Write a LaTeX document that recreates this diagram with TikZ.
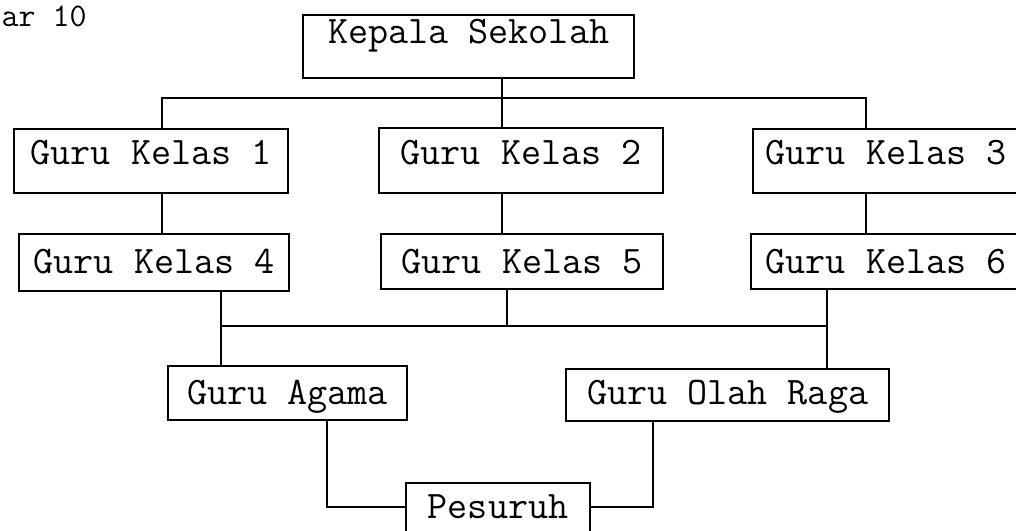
\documentclass[tikz,border=0pt]{standalone}
\usepackage{fontspec}
\begin{document}
\begin{tikzpicture}[x=1pt,y=-1pt,
  line width=2.2pt,
  orgbox/.style={draw, line width=2.2pt, inner sep=0pt, anchor=north west,
    font=\ttfamily\fontsize{39}{42}\selectfont},
  titletext/.style={inner sep=0pt, anchor=base west,
    font=\ttfamily\fontsize{33}{35}\selectfont},
  conn/.style={line width=2.2pt, line cap=rect}]
\useasboundingbox (0,0) rectangle (1016,530);
\clip (0,0) rectangle (1016,530);
% title fragment
\node[titletext] (title) at (0.5,26) {ar 10};
% boxes
\node[orgbox, minimum width=331pt, text height=28pt, text depth=35pt] (kepala) at (302,14) {Kepala Sekolah};
\node[orgbox, minimum width=274pt, text height=35pt, text depth=29pt] (k1) at (13,128) {Guru Kelas 1};
\node[orgbox, minimum width=284pt, text height=36pt, text depth=29pt] (k2) at (378,127) {Guru Kelas 2};
\node[orgbox, minimum width=266pt, text height=35pt, text depth=29pt] (k3) at (752,128) {Guru Kelas 3};
\node[orgbox, minimum width=270pt, text height=39pt, text depth=18pt] (k4) at (18,233) {Guru Kelas 4};
\node[orgbox, minimum width=282pt, text height=39pt, text depth=16pt] (k5) at (380,233) {Guru Kelas 5};
\node[orgbox, minimum width=270pt, text height=39pt, text depth=16pt] (k6) at (750,233) {Guru Kelas 6};
\node[orgbox, minimum width=239pt, text height=38pt, text depth=16pt] (agama) at (167,365) {Guru Agama};
\node[orgbox, minimum width=323pt, text height=35pt, text depth=17pt] (olah) at (565,368) {Guru Olah Raga};
\node[orgbox, minimum width=184pt, text height=35pt, text depth=23pt] (pesuruh) at (405,482) {Pesuruh};
% junction coordinates
\coordinate (t1) at (162,98);
\coordinate (t2) at (502,98);
\coordinate (t3) at (866,98);
\coordinate (b1) at (221,326);
\coordinate (b2) at (507,326);
\coordinate (b3) at (827,326);
\coordinate (p1) at (327,507);
\coordinate (p2) at (653,507);
% connectors: top level
\draw[conn] (t2 |- kepala.south) -- (t2 |- k2.north);
\draw[conn] (t1 |- k1.north) -- (t1) -- (t3) -- (t3 |- k3.north);
% row 1 to row 2
\draw[conn] (t1 |- k1.south) -- (t1 |- k4.north);
\draw[conn] (t2 |- k2.south) -- (t2 |- k5.north);
\draw[conn] (t3 |- k3.south) -- (t3 |- k6.north);
% row 2 to row 3
\draw[conn] (b1 |- k4.south) -- (b1 |- agama.north);
\draw[conn] (b2 |- k5.south) -- (b2);
\draw[conn] (b3 |- k6.south) -- (b3 |- olah.north);
\draw[conn] (b1) -- (b3);
% row 3 to pesuruh
\draw[conn] (p1 |- agama.south) -- (p1) -- (p1 -| pesuruh.west);
\draw[conn] (p2 |- olah.south) -- (p2) -- (p2 -| pesuruh.east);
\end{tikzpicture}
\end{document}
